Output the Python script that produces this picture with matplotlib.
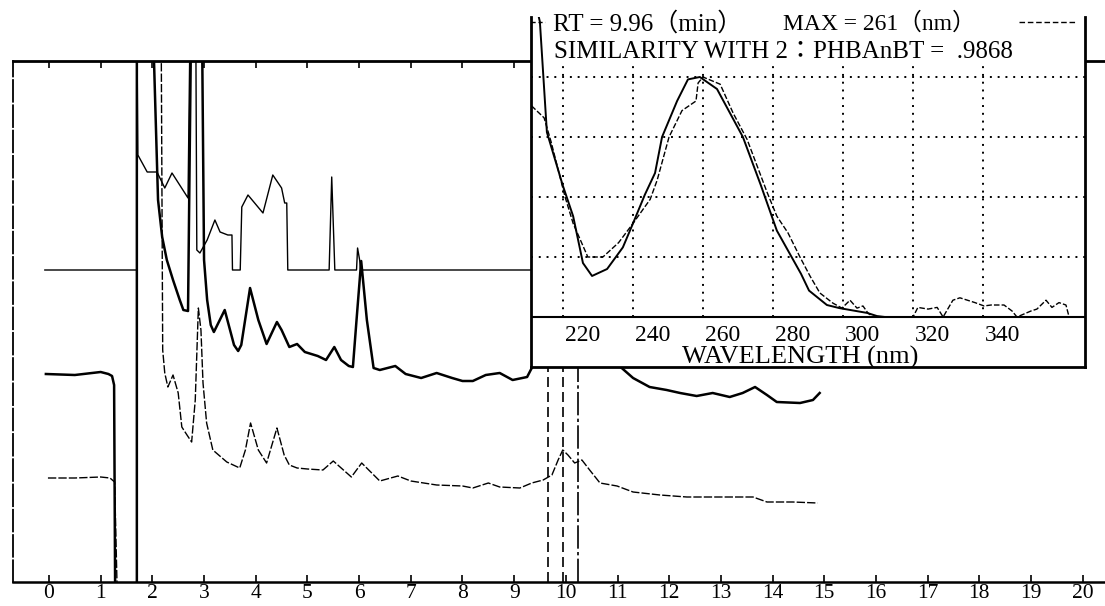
import matplotlib
matplotlib.use("Agg")
import matplotlib.pyplot as plt

plt.rcParams["font.family"] = ["Liberation Serif", "Noto Sans CJK JP", "DejaVu Sans"]

# chromatogram traces: retention time (min) vs detector signal (arbitrary units)
# the plotted window runs 0..521, values outside are off-scale and get clipped
time_a = [-0.08, 1.70, 1.70, 1.72, 1.90, 2.09, 2.24, 2.38, 2.69, 2.73, 2.84, 2.86,
          2.92, 3.06, 3.21, 3.31, 3.46, 3.54, 3.55, 3.70, 3.73, 3.85, 4.14, 4.33,
          4.50, 4.56, 4.60, 4.62, 5.42, 5.47, 5.53, 5.95, 5.97, 6.01, 6.03, 9.60]
sig_a = [312, 312, 560, 427, 410, 410, 394, 409, 384, 560, 560, 332,
         329, 342, 362, 350, 347, 347, 312, 312, 375, 387, 369, 407,
         394, 379, 379, 312, 312, 405, 312, 312, 334, 322, 312, 312]

time_b = [-0.06, 0.50, 1.00, 1.15, 1.22, 1.26, 1.28, 1.70, 1.70, 2.01, 2.11, 2.19,
          2.28, 2.40, 2.53, 2.60, 2.69, 2.75, 2.96, 3.00, 3.06, 3.13, 3.19, 3.40,
          3.58, 3.66, 3.72, 3.89, 4.05, 4.21, 4.41, 4.50, 4.65, 4.80, 4.95, 5.20,
          5.36, 5.52, 5.65, 5.80, 5.88, 5.95, 6.04, 6.15, 6.28, 6.40, 6.70, 6.90,
          7.20, 7.50, 7.80, 8.00, 8.20, 8.45, 8.72, 8.97, 9.25, 9.34, 9.60, 9.96,
          10.40, 10.80, 11.08, 11.30, 11.62, 11.95, 12.21, 12.53, 12.84, 13.17, 13.42, 13.66,
          13.89, 14.08, 14.53, 14.78, 14.91]
sig_b = [208, 207, 210, 208, 206, 197, -10, -10, 560, 560, 382, 345,
         322, 302, 282, 272, 271, 560, 560, 322, 282, 257, 250, 272,
         237, 231, 237, 294, 262, 238, 260, 252, 235, 238, 230, 226,
         222, 235, 222, 216, 215, 262, 321, 262, 214, 212, 216, 208,
         204, 209, 204, 201, 201, 207, 209, 202, 205, 214, 240, 290,
         250, 225, 214, 204, 195, 192, 189, 186, 189, 185, 189, 195,
         187, 180, 179, 182, 189]

time_c = [-0.02, 0.50, 1.00, 1.18, 1.27, 1.32, 1.70, 1.70, 2.17, 2.20, 2.24, 2.30,
          2.40, 2.50, 2.57, 2.67, 2.76, 2.83, 2.89, 2.94, 2.98, 3.05, 3.17, 3.44,
          3.69, 3.80, 3.90, 4.05, 4.21, 4.41, 4.55, 4.65, 4.80, 5.00, 5.30, 5.50,
          5.85, 6.05, 6.40, 6.75, 7.00, 7.50, 8.00, 8.20, 8.50, 8.72, 9.11, 9.34,
          9.56, 9.73, 9.85, 9.94, 10.04, 10.17, 10.31, 10.46, 10.66, 10.99, 11.30, 11.82,
          12.34, 12.84, 13.23, 13.62, 13.89, 14.39, 14.87]
sig_c = [104, 104, 105, 104, 100, -10, -10, 560, 560, 232, 209, 195,
         207, 189, 155, 147, 140, 182, 274, 252, 199, 159, 132, 120,
         114, 132, 159, 132, 119, 154, 127, 117, 114, 113, 112, 121,
         105, 119, 101, 106, 101, 97, 96, 94, 99, 95, 94, 99,
         102, 107, 122, 132, 127, 119, 122, 112, 99, 96, 90, 87,
         85, 85, 85, 85, 80, 80, 79]

marker_times = [9.65, 9.94, 10.23]
marker_styles = [(0, (6, 3)), (0, (6, 3)), (0, (14, 2, 2, 2))]

# UV spectra at RT 9.96 min, normalised to the maximum
wl_sample = [212.3, 213.4, 215.4, 219.9, 222.9, 225.7, 228.3, 232.6, 237.1, 240.0,
             243.4, 246.3, 248.3, 252.6, 255.7, 259.1, 264.0, 267.7, 271.4, 276.5,
             281.1, 285.7, 288.0, 290.3, 295.4, 299.0, 306.9, 309.7, 312.0, 368.0]
abs_sample = [1.30, 1.23, 0.77, 0.55, 0.42, 0.225, 0.171, 0.20, 0.29, 0.39,
              0.51, 0.60, 0.75, 0.90, 0.99, 1.00, 0.95, 0.85, 0.75, 0.55,
              0.36, 0.24, 0.18, 0.11, 0.05, 0.037, 0.017, 0.004, 0.0, 0.0]

wl_library = [211.0, 214.6, 216.6, 220.6, 222.9, 227.1, 231.4, 235.9, 240.0, 244.9,
              246.9, 250.3, 254.0, 258.0, 258.6, 260.0, 264.9, 268.6, 272.6, 278.3,
              281.1, 284.3, 287.7, 290.6, 293.4, 297.1, 299.7, 302.0, 304.0, 305.7,
              307.1, 308.6, 320.0, 321.4, 324.3, 326.9, 328.6, 331.4, 333.4, 337.7,
              340.3, 342.3, 346.0, 348.3, 349.7, 353.7, 355.4, 358.0, 359.7, 361.7,
              363.7, 364.6]
abs_library = [0.88, 0.83, 0.73, 0.50, 0.39, 0.25, 0.25, 0.31, 0.39, 0.49,
               0.57, 0.75, 0.86, 0.90, 0.975, 1.00, 0.97, 0.85, 0.74, 0.52,
               0.42, 0.35, 0.25, 0.17, 0.10, 0.058, 0.037, 0.07, 0.037, 0.046,
               0.017, 0.0, 0.0, 0.04, 0.033, 0.04, 0.0, 0.07, 0.08, 0.06,
               0.046, 0.05, 0.05, 0.025, 0.0, 0.025, 0.033, 0.07, 0.04, 0.06,
               0.05, 0.0]

wl_ticks = [220, 240, 260, 280, 300, 320, 340]
grid_levels = [0.25, 0.5, 0.75, 1.0]

W, H = 1105, 606


def px_box(x0, y0, x1, y1):
    return [x0 / W, 1 - y1 / H, (x1 - x0) / W, (y1 - y0) / H]


fig = plt.figure(figsize=(W / 100, H / 100), dpi=100)

# main chromatogram
ax = fig.add_axes(px_box(13, 61, 1105, 582))
ax.set_xlim(-0.696, 20.43)
ax.set_ylim(0, 521)
ax.plot(time_a, sig_a, color="black", lw=1.0)
ax.plot(time_b, sig_b, color="black", lw=1.8)
ax.plot(time_c, sig_c, color="black", lw=1.0, dashes=(6, 1.5))
for t, ls in zip(marker_times, marker_styles):
    ax.axvline(t, color="black", lw=1.2, linestyle=ls)

ax.spines["right"].set_visible(False)
ax.spines["left"].set_linestyle((0, (12, 2)))
ax.spines["left"].set_linewidth(1.3)
ax.spines["top"].set_linewidth(2.0)
ax.spines["bottom"].set_linewidth(1.8)
ax.set_xticks(range(21))
ax.set_yticks([])
ax.tick_params(axis="x", direction="in", length=5, width=1.2, top=True,
               labelsize=15.5, pad=1.5)

# spectrum inset
ins = fig.add_axes(px_box(531, 17, 1085, 367), zorder=5)
ins.set_facecolor("white")
ins.set_xlim(210.86, 369.14)
ins.set_ylim(-0.2083, 1.25)
ins.set_xticks([])
ins.set_yticks([])
ins.spines["top"].set_visible(False)
for side in ["left", "right", "bottom"]:
    ins.spines[side].set_linewidth(2.0)

ins.axhline(0, color="black", lw=1.5)
for v in grid_levels:
    ins.axhline(v, color="black", lw=1.4, ls=(0, (1, 3)))
ins.vlines(wl_ticks, 0, 1.05, color="black", lw=1.4, ls=(0, (1, 3)))

ins.plot(wl_sample, abs_sample, color="black", lw=1.4)
ins.plot(wl_library, abs_library, color="black", lw=1.0, dashes=(4, 1.5))

for wl in wl_ticks:
    ins.text(wl + 5.6, -0.075, str(wl), ha="center", va="center", fontsize=17)
ins.text(287.7, -0.17, "WAVELENGTH (nm)", ha="center", va="center", fontsize=19)

ins.text(217.1, 1.221, "RT = 9.96（min）", ha="left", va="center", fontsize=18)
ins.text(282.9, 1.221, "MAX = 261（nm）", ha="left", va="center", fontsize=17)
ins.text(217.4, 1.104, "SIMILARITY WITH 2：PHBAnBT =  .9868", ha="left",
         va="center", fontsize=18)

ins.plot([0.0, 0.025], [0.985, 0.985], transform=ins.transAxes, color="black",
         lw=1.0, ls=(0, (3, 2)), clip_on=False)
ins.plot([0.88, 0.985], [0.985, 0.985], transform=ins.transAxes, color="black",
         lw=1.0, ls=(0, (4, 2)), clip_on=False)

fig.savefig("out.png", dpi=100)
plt.close(fig)
